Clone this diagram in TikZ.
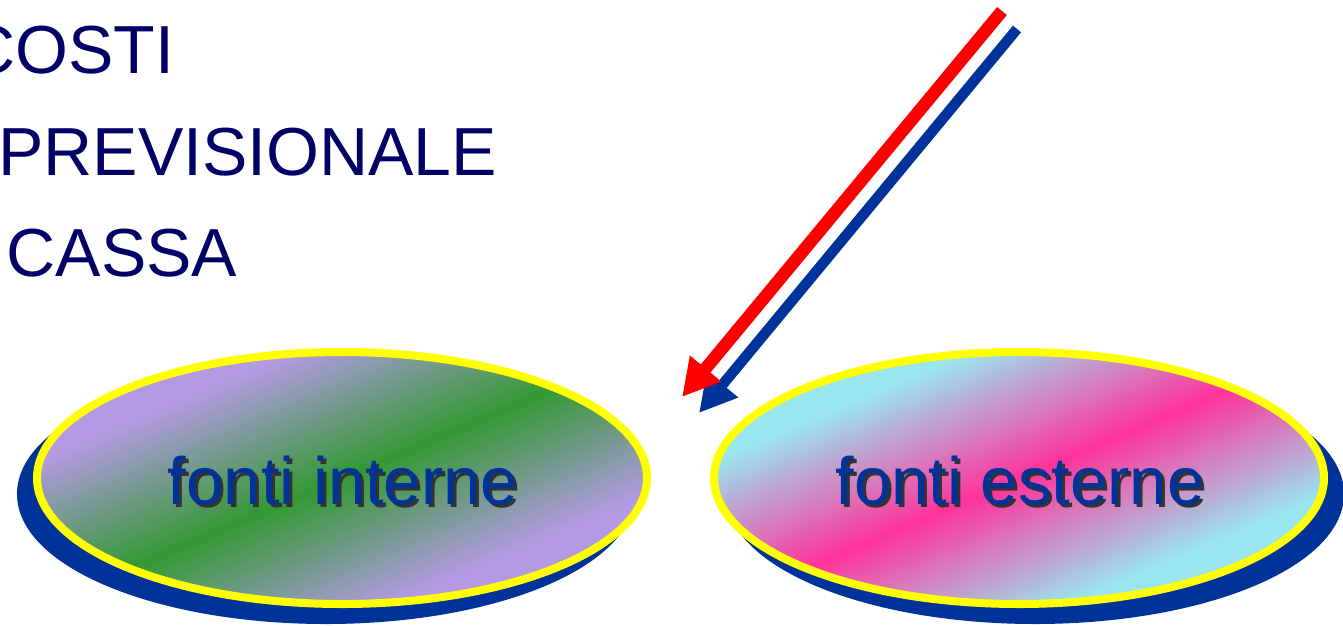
\documentclass[tikz,border=0pt]{standalone}
\usepackage{fontspec}
\setmainfont{Liberation Sans}
\usetikzlibrary{arrows.meta,shapes.geometric,shadows}
\definecolor{navy}{HTML}{000066}
\definecolor{royal}{HTML}{003399}
\definecolor{lav}{HTML}{B39AE3}
\definecolor{grn}{HTML}{339933}
\definecolor{cyanl}{HTML}{99E6EE}
\definecolor{hotpink}{HTML}{FF3399}
\definecolor{yel}{HTML}{FFFF00}
\definecolor{redarrow}{HTML}{FF0000}
\pgfdeclareverticalshading{internshading}{100bp}{color(0bp)=(lav); color(31bp)=(lav); color(50bp)=(grn); color(69bp)=(lav); color(100bp)=(lav)}
\pgfdeclareverticalshading{externshading}{100bp}{color(0bp)=(cyanl); color(31bp)=(cyanl); color(50bp)=(hotpink); color(69bp)=(cyanl); color(100bp)=(cyanl)}
\tikzset{
  listtext/.style={anchor=base west, inner sep=0pt, text=navy, font=\fontsize{68}{68}\selectfont},
  oval/.style={ellipse, minimum width=610pt, minimum height=252pt, draw=yel, line width=8pt, inner sep=0pt},
  ovaltext/.style={inner sep=0pt, anchor=base, text=royal, font=\fontsize{67}{67}\selectfont},
  ovalshade/.style={ovaltext, text=black!80},
  fatarrow/.style={-{Triangle[length=37pt,width=38pt]}},
}
\begin{document}
\begin{tikzpicture}[x=1pt,y=-1pt]
\useasboundingbox (0,0) rectangle (1343,625);
\clip (0,0) rectangle (1343,625);
% list texts
\node[listtext] (costi) at (-34,73.5) {COSTI};
\node[listtext] (prev) at (-2,175) {PREVISIONALE};
\node[listtext] (cassa) at (6.6,276) {CASSA};
% ovals
\node[oval, shade, shading=internshading, shading angle=23,
  general shadow={fill=royal, draw=royal, line width=8pt, shadow xshift=-16pt, shadow yshift=-16pt}]
  (interne) at (342,478) {};
\node[oval, shade, shading=externshading, shading angle=23,
  general shadow={fill=royal, draw=royal, line width=8pt, shadow xshift=16pt, shadow yshift=-16pt}]
  (esterne) at (1019,478) {};
\node[ovalshade] (interneshadow) at (346,507) {fonti interne};
\node[ovaltext] (internelabel) at (343,504) {fonti interne};
\node[ovalshade] (esterneshadow) at (1023,507) {fonti esterne};
\node[ovaltext] (esternelabel) at (1020,504) {fonti esterne};
% arrows
\coordinate (bstart) at (1017,29);
\coordinate (btip) at (699,413);
\coordinate (rstart) at (1002,11);
\coordinate (rtip) at (682,397);
\draw[royal, line width=10.5pt, fatarrow] (bstart) -- (btip);
\draw[redarrow, line width=12.6pt, fatarrow] (rstart) -- (rtip);
\end{tikzpicture}
\end{document}
